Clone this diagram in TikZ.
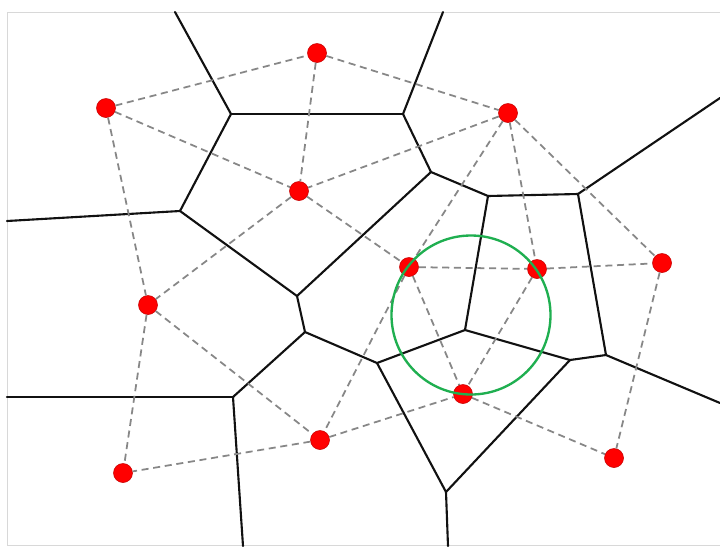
\documentclass[tikz,border=0pt]{standalone}
\usepackage{xcolor}
\definecolor{edge}{HTML}{111111}
\definecolor{link}{HTML}{878787}
\definecolor{site}{HTML}{FF0000}
\definecolor{siterim}{HTML}{C80000}
\definecolor{circum}{HTML}{1FAF50}
\definecolor{frame}{HTML}{D8D8D8}
\tikzset{
  site dot/.style={circle,fill=site,draw=siterim,line width=.5pt,minimum size=5.7mm,inner sep=0pt},
  cell edge/.style={draw=edge,line width=1.8pt,line join=round,line cap=round},
  dual link/.style={draw=link,line width=1.5pt,dash pattern=on 6pt off 4pt},
  empty circle/.style={draw=circum,line width=2pt}
}

\begin{document}
\begin{tikzpicture}[x=0.03cm,y=-0.03cm]
  \path[use as bounding box] (0,0) rectangle (720,546);
  \fill[white] (0,0) rectangle (720,546);
  \draw[frame,line width=.8pt] (720,12) -- (7,12) -- (7,545) -- (720,545);

  % Voronoi vertices and the points where cells leave the frame.
  \coordinate (v1) at (231,114);
  \coordinate (v2) at (403,114);
  \coordinate (v3) at (180,211);
  \coordinate (v4) at (431,172);
  \coordinate (v5) at (488,196);
  \coordinate (v6) at (578,194);
  \coordinate (v7) at (297,296);
  \coordinate (v8) at (305,332);
  \coordinate (v9) at (465,330);
  \coordinate (v10) at (377,363);
  \coordinate (v11) at (570,360);
  \coordinate (v12) at (606,355);
  \coordinate (v13) at (233,397);
  \coordinate (v14) at (446,492);
  \coordinate (b1) at (175,12);
  \coordinate (b2) at (443,12);
  \coordinate (b3) at (7,221);
  \coordinate (b4) at (720,98);
  \coordinate (b5) at (720,403);
  \coordinate (b6) at (448,546);
  \coordinate (b7) at (243,546);
  \coordinate (b8) at (7,397);

  % Cell boundaries.
  \foreach \a/\b in {b1/v1,v1/v2,v1/v3,v3/b3,v3/v7,v2/b2,v2/v4,v4/v7,v4/v5,
                     v5/v6,v6/b4,v5/v9,v6/v12,v9/v10,v9/v11,v11/v12,v12/b5,
                     v11/v14,v10/v14,v14/b6,v8/v10,v7/v8,v8/v13,v13/b8,v13/b7}
    \draw[cell edge] (\a) -- (\b);

  % Sites.
  \node[site dot] (s1) at (317,53) {};
  \node[site dot] (s2) at (106,108) {};
  \node[site dot] (s3) at (508,113) {};
  \node[site dot] (s4) at (299,191) {};
  \node[site dot] (s5) at (409,267) {};
  \node[site dot] (s6) at (537,269) {};
  \node[site dot] (s7) at (662,263) {};
  \node[site dot] (s8) at (148,305) {};
  \node[site dot] (s9) at (463,394) {};
  \node[site dot] (s10) at (320,440) {};
  \node[site dot] (s11) at (123,473) {};
  \node[site dot] (s12) at (614,458) {};

  % Delaunay links between neighbouring sites.
  \foreach \a/\b in {s2/s1,s1/s3,s1/s4,s2/s4,s2/s8,s3/s4,s3/s5,s3/s6,s3/s7,
                     s4/s5,s4/s8,s5/s6,s6/s7,s5/s9,s6/s9,s5/s10,s8/s10,
                     s8/s11,s10/s11,s10/s9,s9/s12,s7/s12}
    \draw[dual link] (\a) -- (\b);

  % Empty circumcircle through three sites.
  \draw[empty circle] (471,315) circle (2.385cm);
\end{tikzpicture}
\end{document}
